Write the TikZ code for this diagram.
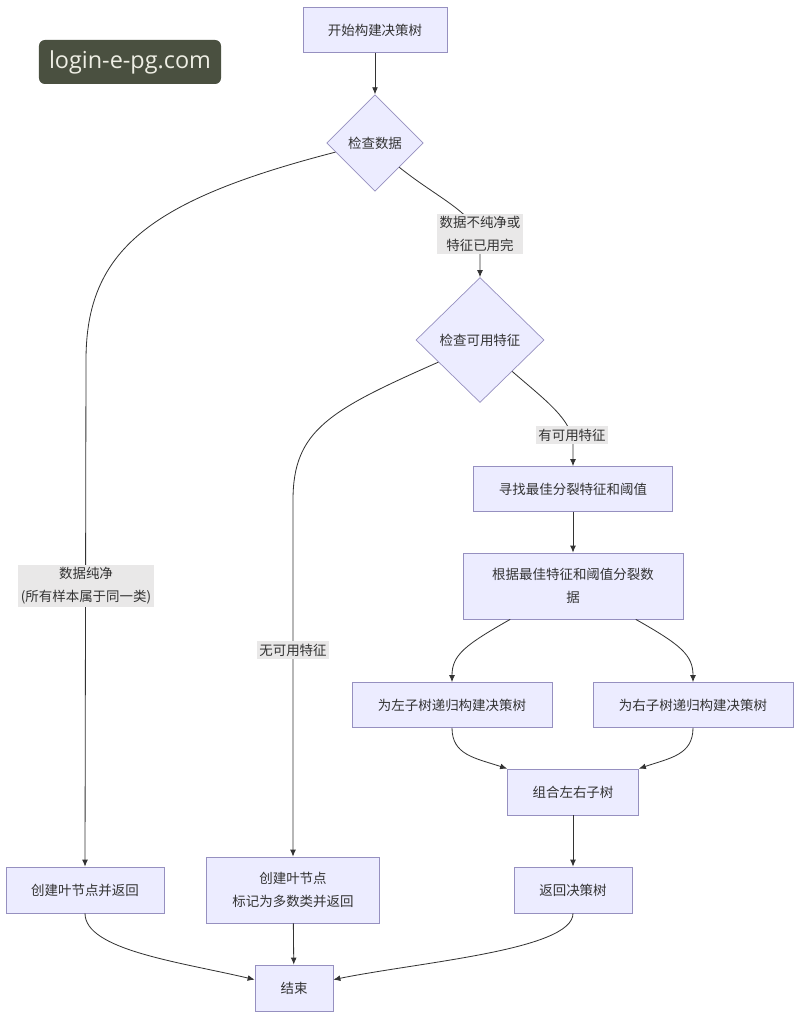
\documentclass[tikz,border=0pt]{standalone}
\usepackage{fontspec}
\setmainfont{Noto Sans CJK SC}
\newfontfamily\markfont{Open Sans}
\usepackage{tikz}
\usetikzlibrary{arrows.meta}
\usetikzlibrary{shapes.geometric}

\definecolor{boxfill}{RGB}{236,236,255}
\definecolor{boxline}{RGB}{150,144,192}
\definecolor{lblfill}{RGB}{233,232,232}
\definecolor{linecol}{RGB}{51,51,51}
\definecolor{markfill}{RGB}{74,80,64}
\definecolor{marktext}{RGB}{238,238,228}

\begin{document}
\begin{tikzpicture}[x=0.03cm, y=-0.03cm,
        box/.style={draw=boxline, fill=boxfill, line width=0.6pt, inner sep=0pt, align=center, text=linecol, font=\fontsize{11.5}{20}\selectfont},
        decide/.style={box, diamond, aspect=1},
        lbl/.style={fill=lblfill, inner sep=2pt, align=center, text=linecol, font=\fontsize{11.5}{19.5}\selectfont},
        arr/.style={-{Latex[length=6pt, width=5pt]}, draw=linecol, line width=0.7pt}]
        \useasboundingbox (0,0) rectangle (800,1018);
        \node[fill=markfill, rounded corners=5pt, minimum width=5.46cm, minimum height=1.32cm, text=marktext, font=\markfont\fontsize{20}{20}\selectfont] (mark) at (130,62) {login-e-pg.com};

        \node[box, minimum width=4.32cm, minimum height=1.35cm] (start) at (375,30) {开始构建决策树};
        \node[decide, minimum width=2.9cm, minimum height=2.9cm] (chk1) at (375,143) {检查数据};
        \node[decide, minimum width=3.84cm, minimum height=3.75cm] (chk2) at (480,340) {检查可用特征};
        \node[box, minimum width=5.97cm, minimum height=1.35cm] (find) at (573,489) {寻找最佳分裂特征和阈值};
        \node[box, minimum width=6.6cm, minimum height=1.98cm] (split) at (573,586) {根据最佳特征和阈值分裂数\\据};
        \node[box, minimum width=6cm, minimum height=1.35cm] (left) at (452,705) {为左子树递归构建决策树};
        \node[box, minimum width=6cm, minimum height=1.35cm] (right) at (693,705) {为右子树递归构建决策树};
        \node[box, minimum width=3.93cm, minimum height=1.38cm] (combine) at (573,792) {组合左右子树};
        \node[box, minimum width=3.54cm, minimum height=1.38cm] (ret) at (573,890) {返回决策树};
        \node[box, minimum width=4.74cm, minimum height=1.38cm] (leaf1) at (85,890) {创建叶节点并返回};
        \node[box, minimum width=5.19cm, minimum height=1.98cm] (leaf2) at (293,890) {创建叶节点\\标记为多数类并返回};
        \node[box, minimum width=2.34cm, minimum height=1.38cm] (stop) at (294,988) {结束};

        % straight links
        \foreach \a/\b in {start/chk1, find/split, combine/ret, leaf2/stop}
        {
            \draw[arr] (\a) -- (\b);
        }
        % curved links
        \draw[arr] (chk1.-167) .. controls (150,200) and (86,250) .. (86,360) -- (leaf1.north);
        \draw[arr] (chk1.south east) .. controls (440,200) and (480,215) .. (480,245) -- (chk2.north);
        \draw[arr] (chk2.-152) .. controls (330,410) and (293,430) .. (293,500) -- (leaf2.north);
        \draw[arr] (chk2.south east) .. controls (545,400) and (573,420) .. (573,445) -- (find.north);
        \draw[arr] (split.-152) .. controls (465,645) and (452,655) .. (left.north);
        \draw[arr] (split.-28) .. controls (681,645) and (693,655) .. (right.north);
        \draw[arr] (left.south) .. controls (452,755) and (475,758) .. (combine.north west);
        \draw[arr] (right.south) .. controls (693,755) and (670,758) .. (combine.north east);
        \draw[arr] (leaf1.south) .. controls (85,950) and (180,962) .. (stop.168);
        \draw[arr] (ret.south) .. controls (573,950) and (420,962) .. (stop.12);

        % labels
        \node[lbl] (l1) at (480,234) {数据不纯净或\\特征已用完};
        \node[lbl] (l2) at (86,586) {数据纯净\\(所有样本属于同一类)};
        \node[lbl] (l3) at (572,435) {有可用特征};
        \node[lbl] (l4) at (293,650) {无可用特征};
    \end{tikzpicture}
\end{document}
